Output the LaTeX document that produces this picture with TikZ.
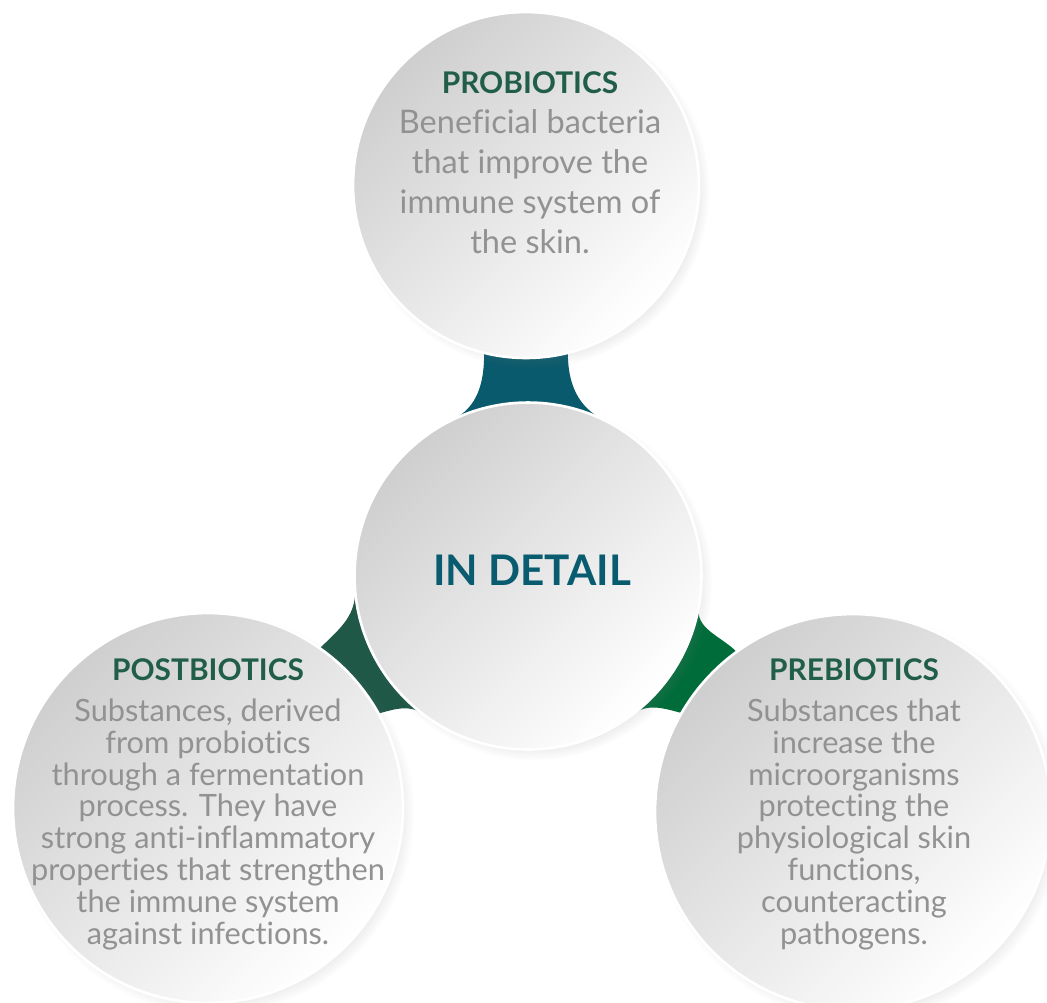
\documentclass[tikz,border=0pt]{standalone}
\usepackage{fontspec}
\setmainfont{Lato}[Ligatures=NoCommon]
\usetikzlibrary{shadows}

\definecolor{tealband}{RGB}{9,90,108}
\definecolor{darkband}{RGB}{32,88,72}
\definecolor{greenband}{RGB}{0,108,58}
\definecolor{headgreen}{RGB}{33,94,74}
\definecolor{headteal}{RGB}{9,92,112}
\definecolor{bodygray}{RGB}{146,146,146}

\tikzstyle{bubble} = [circle, inner sep=0pt, outer sep=0pt, draw=white, line width=1.5pt,
		top color=black!19, bottom color=white, shading angle=45,
		circular drop shadow={shadow xshift=3pt, shadow yshift=-3pt, opacity=0.3, shadow scale=1.03}]
\tikzstyle{headtxt} = [anchor=base, inner sep=0pt, text=headgreen,
		font=\bfseries\fontsize{17}{20}\selectfont]
\tikzstyle{bodytxt} = [anchor=base, align=center, inner sep=0pt, text=bodygray]

\begin{document}
\begin{tikzpicture}[x=0.02cm, y=0.02cm]
		\useasboundingbox (0,0) rectangle (1047,-1002);
		
		%circles, only placed here, drawn after the bands
		\path (526,-185) coordinate (probioc);
		\path (528,-576) coordinate (detailc);
		\path (208,-808) coordinate (postbioc);
		\path (853,-812) coordinate (prebioc);
		\node [circle, inner sep=0pt, outer sep=0pt, minimum size=6.92cm] (probio) at (probioc) {};
		\node [circle, inner sep=0pt, outer sep=0pt, minimum size=6.94cm] (detail) at (detailc) {};
		\node [circle, inner sep=0pt, outer sep=0pt, minimum size=7.8cm] (postbio) at (postbioc) {};
		\node [circle, inner sep=0pt, outer sep=0pt, minimum size=7.92cm] (prebio) at (prebioc) {};
		
		%bands
		\fill[tealband] (probio.256) to[out=270,in=26] (detail.116) -- (detail.64) to[out=154,in=270] (probio.284) -- cycle;
		\fill[darkband] (detail.185) to[out=270,in=45] (postbio.55) -- (postbio.29) to[out=15,in=143] (detail.233) -- cycle;
		\fill[greenband] (detail.350) to[out=260,in=135] (prebio.126) -- (prebio.150) to[out=165,in=37] (detail.307) -- cycle;
		
		\node [bubble, minimum size=6.92cm] (probiodisc) at (probioc) {};
		\node [bubble, minimum size=6.94cm] (detaildisc) at (detailc) {};
		\node [bubble, minimum size=7.8cm] (postbiodisc) at (postbioc) {};
		\node [bubble, minimum size=7.92cm] (prebiodisc) at (prebioc) {};
		
		%texts (body nodes sit on their last baseline)
		\node [headtxt] (probiohead) at (530,-93) {PROBIOTICS};
		\node [bodytxt, font=\fontsize{18.5}{22.7}\selectfont] (probiobody) at (530,-253)
		{Beneficial bacteria\\that improve the\\immune system of\\the skin.};
		
		\node [headtxt, text=headteal, font=\bfseries\fontsize{24}{30}\selectfont] (detailhead) at (532,-585) {IN DETAIL};
		
		\node [headtxt] (postbiohead) at (208,-680) {POSTBIOTICS};
		\node [bodytxt, font=\fontsize{17.5}{18.1}\selectfont] (postbiobody) at (208,-944)
		{Substances, derived\\from probiotics\\through a fermentation\\process. They have\\strong anti-inflammatory\\properties that strengthen\\the immune system\\against infections.};
		
		\node [headtxt] (prebiohead) at (854,-680) {PREBIOTICS};
		\node [bodytxt, font=\fontsize{17.5}{18.1}\selectfont] (prebiobody) at (854,-944)
		{Substances that\\increase the\\microorganisms\\protecting the\\physiological skin\\functions,\\counteracting\\pathogens.};
\end{tikzpicture}
\end{document}
